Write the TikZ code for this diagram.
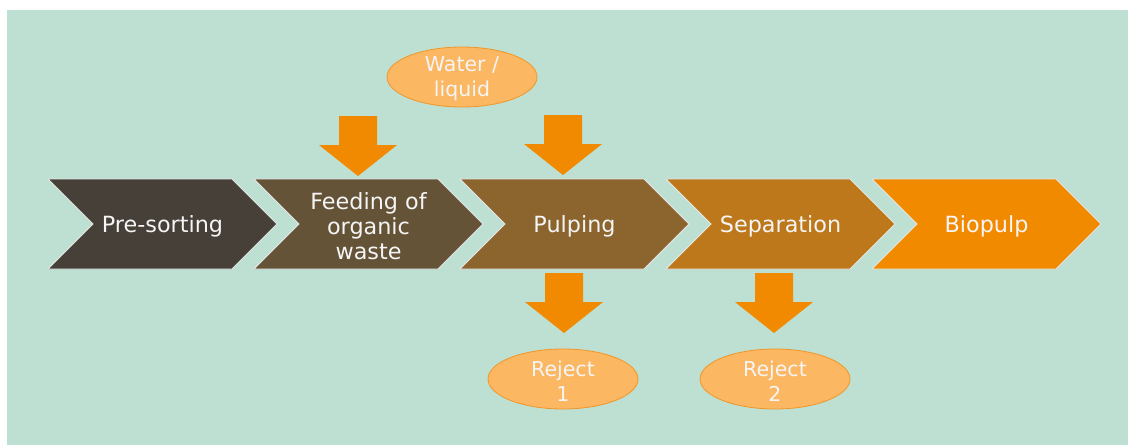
\documentclass[tikz,border=0pt]{standalone}
\usepackage{fontspec}
\setmainfont{DejaVu Sans}
\usetikzlibrary{shapes.geometric}

\definecolor{bggreen}{RGB}{190,224,210}
\definecolor{cPre}{RGB}{70,64,57}
\definecolor{cFeed}{RGB}{101,83,56}
\definecolor{cPulp}{RGB}{140,100,46}
\definecolor{cSep}{RGB}{190,120,28}
\definecolor{cBio}{RGB}{242,138,0}
\definecolor{arrowor}{RGB}{241,138,0}
\definecolor{ellfill}{RGB}{252,183,98}
\definecolor{elldraw}{RGB}{240,150,40}
\definecolor{txt}{RGB}{245,245,245}

\tikzset{
  chevshape/.style={line width=0.8pt, draw=white!90!black},
  steptext/.style={text=txt, align=center, inner sep=0pt,
    font=\fontsize{22.3}{25}\selectfont},
  bubble/.style={ellipse, fill=ellfill, draw=elldraw, line width=0.8pt,
    minimum width=150pt, minimum height=60pt, inner sep=0pt},
  bubbletext/.style={text=txt, align=center, inner sep=0pt,
    font=\fontsize{20.5}{25}\selectfont},
  blockfill/.style={fill=arrowor}
}

% chevron: left x, fill colour, node name, label
\newcommand\chevstep[4]{%
  \filldraw[chevshape, fill=#2] (#1,179) -- ++(184,0) -- ++(45,45) -- ++(-45,45)
    -- ++(-184,0) -- ++(45,-45) -- cycle;
  \node[steptext] (#3) at (#1+114.5,226) {#4};}

% block arrow pointing down: centre x, top y
\newcommand\blockarrow[2]{%
  \fill[blockfill] (#1-19,#2) -- (#1+19,#2) -- (#1+19,#2+29) -- (#1+39,#2+29)
    -- (#1,#2+60) -- (#1-39,#2+29) -- (#1-19,#2+29) -- cycle;}

\begin{document}
\begin{tikzpicture}[x=1pt,y=-1pt]
  \useasboundingbox (0,0) rectangle (1128,445);
  \fill[bggreen] (7,10) rectangle (1128,445);

  \chevstep{48}{cPre}{presort}{Pre-sorting}
  \chevstep{254}{cFeed}{feed}{Feeding of\\organic\\waste}
  \chevstep{460}{cPulp}{pulp}{Pulping}
  \chevstep{666}{cSep}{sep}{Separation}
  \chevstep{872}{cBio}{bio}{Biopulp}

  % input and output bubbles, each with its label set slightly low
  \node[bubble] (water) at (462,77) {};
  \node[bubbletext] (waterlbl) at ([yshift=-2pt]water.center) {Water /\\liquid};
  \node[bubble] (rej1) at (563,379) {};
  \node[bubbletext] (rej1lbl) at ([yshift=-2pt]rej1.center) {Reject\\1};
  \node[bubble] (rej2) at (775,379) {};
  \node[bubbletext] (rej2lbl) at ([yshift=-2pt]rej2.center) {Reject\\2};

  \blockarrow{358}{116}
  \blockarrow{563}{115}
  \blockarrow{564}{273}
  \blockarrow{774}{273}
\end{tikzpicture}
\end{document}
